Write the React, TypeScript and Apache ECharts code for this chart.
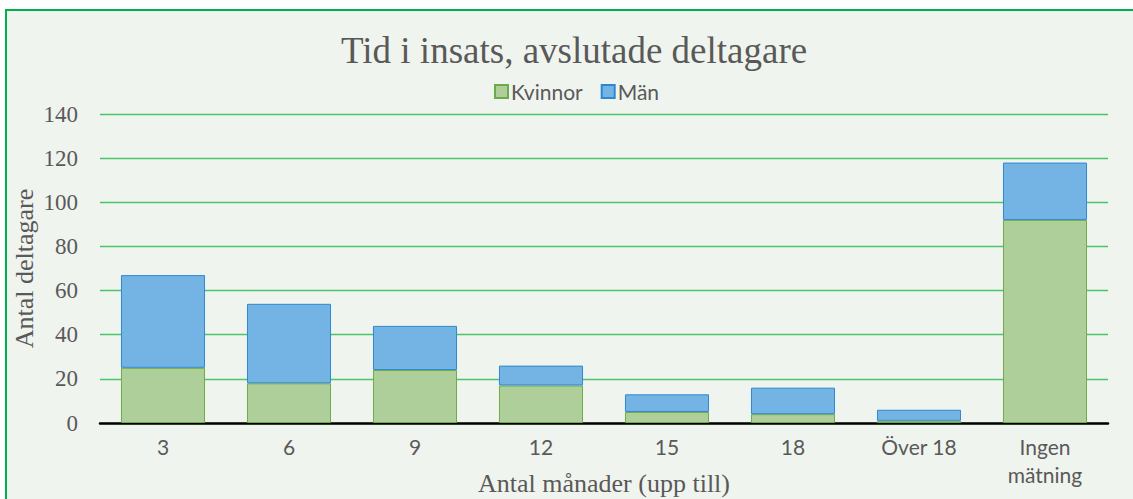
import React, { useEffect, useRef } from "react";
import * as echarts from "echarts";

const categories = ["3", "6", "9", "12", "15", "18", "Över 18", "Ingen\nmätning"];
const kvinnor = [25, 18, 24, 17, 5, 4, 1, 92];
const totals = [67, 54, 44, 26, 13, 16, 6, 118];
const man = totals.map((t, i) => t - kvinnor[i]);
const yTicks = { min: 0, max: 140, interval: 20 };

const SERIF = "'Liberation Serif', serif";
const SANS = "Lato, 'Open Sans', sans-serif";
const TXT = "#595959";

export default function App() {
  const ref = useRef<HTMLDivElement>(null);
  useEffect(() => {
    if (!ref.current) return;
    const chart = echarts.init(ref.current, undefined, { renderer: "svg" });
    chart.setOption({
      animation: false,
      backgroundColor: "transparent",
      title: {
        text: "Tid i insats, avslutade deltagare",
        left: 336,
        top: 27,
        textStyle: { fontFamily: SERIF, fontSize: 37, fontWeight: "normal", color: TXT },
      },
      legend: {
        top: 76,
        left: 489,
        itemWidth: 13,
        itemHeight: 13,
        itemGap: 18,
        icon: "rect",
        textStyle: { fontFamily: SANS, fontSize: 21, color: TXT, padding: [0, 0, 0, -2] },
        data: ["Kvinnor", "Män"],
      },
      grid: { left: 100, right: 25, top: 114, bottom: 76, containLabel: false, outerBoundsMode: "none" },
      xAxis: {
        type: "category",
        data: categories,
        name: "Antal månader (upp till)",
        nameLocation: "middle",
        nameGap: 47,
        nameMoveOverlap: false,
        nameTextStyle: { fontFamily: SERIF, fontSize: 26, color: TXT },
        axisLine: { lineStyle: { color: "#000", width: 2.5 } },
        axisTick: { show: false },
        axisLabel: { fontFamily: SANS, fontSize: 21, color: TXT, margin: 9, lineHeight: 28 },
      },
      yAxis: {
        type: "value",
        min: yTicks.min,
        max: yTicks.max,
        interval: yTicks.interval,
        name: "Antal deltagare",
        nameLocation: "middle",
        nameGap: 63,
        nameMoveOverlap: false,
        nameTextStyle: { fontFamily: SERIF, fontSize: 26, color: TXT },
        axisLine: { show: false },
        axisTick: { show: false },
        axisLabel: { fontFamily: SERIF, fontSize: 23, color: TXT, margin: 22 },
        splitLine: { lineStyle: { color: "#4CC46E", width: 1.3 } },
      },
      series: [
        {
          name: "Kvinnor",
          type: "bar",
          stack: "a",
          data: kvinnor,
          barCategoryGap: "33.3%",
          itemStyle: { color: "#AECF9A", borderColor: "#6EAB48", borderWidth: 1 },
        },
        {
          name: "Män",
          type: "bar",
          stack: "a",
          data: man,
          barCategoryGap: "33.3%",
          itemStyle: { color: "#74B4E4", borderColor: "#2F88CF", borderWidth: 1 },
        },
      ],
    });
    return () => chart.dispose();
  }, []);
  return (
    <div style={{ position: "fixed", left: 0, top: 0, width: 1133, height: 499, background: "#fff", overflow: "hidden" }}>
      <div
        style={{
          position: "absolute",
          left: 5,
          top: 9,
          width: 1200,
          height: 600,
          borderTop: "2px solid #00B050",
          borderLeft: "2px solid #00B050",
          background: "#F0F4EE",
        }}
      />
      <div ref={ref} style={{ position: "absolute", left: 0, top: 0, width: 1133, height: 499 }} />
    </div>
  );
}
